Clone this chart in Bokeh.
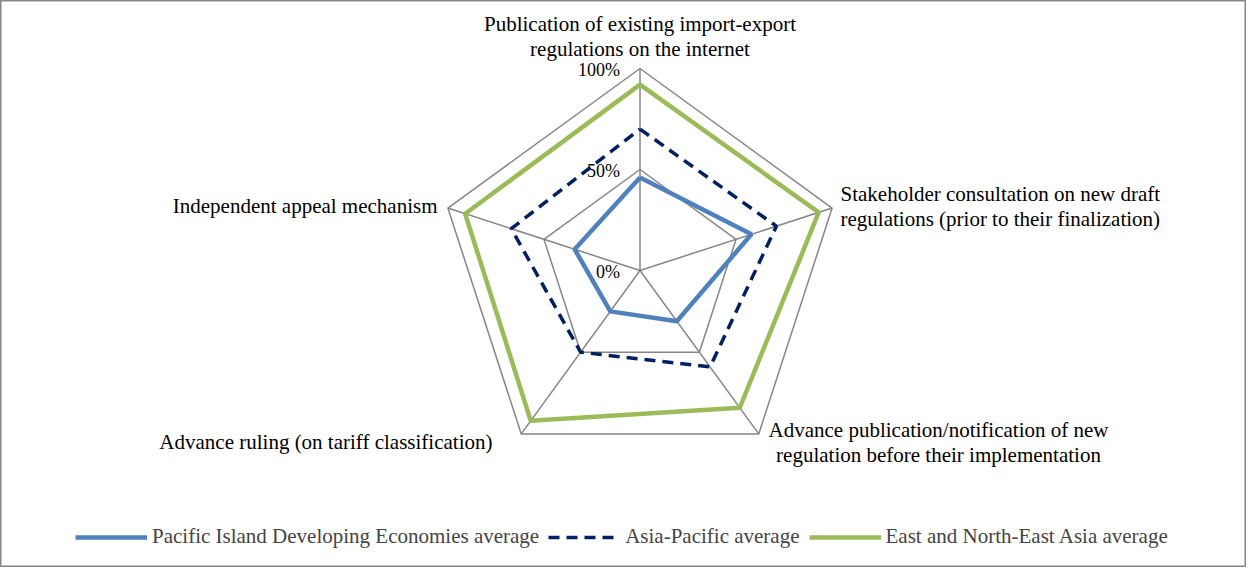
import math
from bokeh.plotting import figure
from bokeh.models import Range1d, Legend, LegendItem
from bokeh.core.properties import value
from bokeh.embed import file_html
from bokeh.resources import INLINE

# ---- data ----
categories = [
    "Publication of existing import-export\nregulations on the internet",
    "Stakeholder consultation on new draft\nregulations (prior to their finalization)",
    "Advance publication/notification of new\nregulation before their implementation",
    "Advance ruling (on tariff classification)",
    "Independent appeal mechanism",
]
series_names = [
    "Pacific Island Developing Economies average",
    "Asia-Pacific average",
    "East and North-East Asia average",
]
pacific = [0.46, 0.58, 0.31, 0.25, 0.34]
asia_pacific = [0.70, 0.71, 0.59, 0.50, 0.67]
east_ne_asia = [0.92, 0.93, 0.84, 0.92, 0.91]
tick_values = [0.0, 0.5, 1.0]
tick_labels = ["0%", "50%", "100%"]

# ---- layout / style ----
W, H = 1246, 567
CX, CY, R = 647.5, 278.0, 202.0
FONT = "Liberation Serif"
GRID = "#868686"

p = figure(width=W, height=H, output_backend="svg", toolbar_location=None,
           x_range=Range1d(8, 8 + W), y_range=Range1d(8 + H, 8),
           min_border=0, background_fill_color="white")
p.xaxis.visible = False
p.yaxis.visible = False
p.grid.visible = False
p.outline_line_color = GRID
p.outline_line_width = 2

n = len(categories)
angles = [math.radians(90 - 72 * i) for i in range(n)]


def polar(vals):
    xs = [CX + v * R * math.cos(a) for v, a in zip(vals, angles)]
    ys = [CY - v * R * math.sin(a) for v, a in zip(vals, angles)]
    return xs + xs[:1], ys + ys[:1]


# grid rings
for t in tick_values[1:]:
    xs, ys = polar([t] * n)
    p.line(xs, ys, line_color=GRID, line_width=1.5)
# spokes
for a in angles:
    p.line([CX, CX + R * math.cos(a)], [CY, CY - R * math.sin(a)],
           line_color=GRID, line_width=1.5)

# tick labels
p.text(x=[CX - 20] * len(tick_values), y=[CY + 1 - t * R for t in tick_values],
       text=tick_labels, text_align="right", text_baseline="middle",
       text_font=value(FONT), text_font_size="18px", text_color="black")

# series
xs, ys = polar(pacific)
r1 = p.line(xs, ys, line_color="#4F81BD", line_width=4.5)
xs, ys = polar(asia_pacific)
r2 = p.line(xs, ys, line_color="#002060", line_width=3.5, line_dash="11 7")
xs, ys = polar(east_ne_asia)
r3 = p.line(xs, ys, line_color="#9BBB59", line_width=4.5)

# category labels (anchor positions relative to vertex)
label_pos = [
    (CX, 31, "center"),
    (848, 201, "left"),
    (946, 437, "center"),
    (500, 449, "right"),
    (445, 213, "right"),
]
LH = 25
for cat, (lx, ly, al) in zip(categories, label_pos):
    lines = cat.split("\n")
    p.text(x=[lx] * len(lines), y=[ly + k * LH for k in range(len(lines))],
           text=lines, text_align=al, text_baseline="middle",
           text_font=value(FONT), text_font_size="21px", text_color="black")

legend = Legend(items=[
    LegendItem(label=series_names[0], renderers=[r1]),
    LegendItem(label=series_names[1], renderers=[r2]),
    LegendItem(label=series_names[2], renderers=[r3]),
], orientation="horizontal", location=(75, 18),
    label_text_font=FONT, label_text_font_size="21px",
    glyph_width=72, glyph_height=20, label_standoff=5, spacing=9,
    padding=0, margin=0, border_line_color=None, background_fill_alpha=0)
p.add_layout(legend, "center")

open("out.html", "w").write(file_html(p, INLINE))
